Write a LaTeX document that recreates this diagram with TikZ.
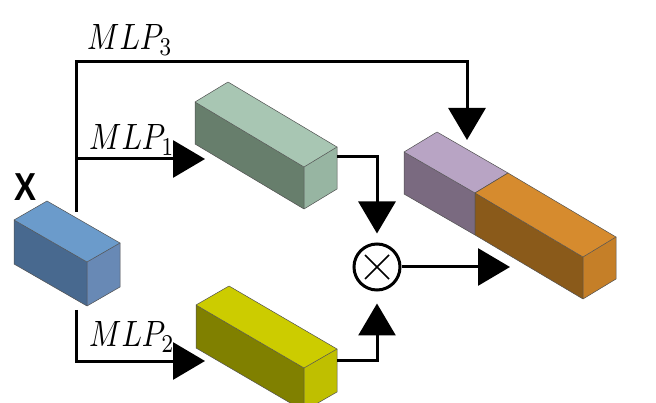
\documentclass[tikz,border=0pt]{standalone}
\usepackage{fontspec}
\newfontfamily\xfont{Liberation Sans}
\usetikzlibrary{arrows.meta}
\definecolor{bluetop}{HTML}{6B9BCB}
\definecolor{bluefront}{HTML}{48698F}
\definecolor{blueright}{HTML}{6889B5}
\definecolor{greentop}{HTML}{A8C6B3}
\definecolor{greenfront}{HTML}{677E6C}
\definecolor{greenright}{HTML}{97B5A2}
\definecolor{yellowtop}{HTML}{CCCC00}
\definecolor{yellowfront}{HTML}{808000}
\definecolor{yellowright}{HTML}{BFBF00}
\definecolor{purpletop}{HTML}{B8A4C4}
\definecolor{purplefront}{HTML}{7A6A80}
\definecolor{purpleright}{HTML}{9A88A2}
\definecolor{orangetop}{HTML}{D68B2E}
\definecolor{orangefront}{HTML}{8A5A1A}
\definecolor{orangeright}{HTML}{C57F28}
\definecolor{edgegray}{HTML}{505050}
\tikzset{
  arr/.style={line width=3pt, -{Triangle[length=32pt,width=37pt]}},
  plain/.style={line width=3pt},
  face/.style={draw=edgegray, line width=0.5pt, line join=round},
  lab/.style={inner sep=0pt, anchor=base west},
}
% #1,#2 front-left-top corner; #3,#4 length vector; #5,#6 depth vector; #7 height; #8 colour prefix
\newcommand\mycuboid[8]{%
  \path (#1,#2) coordinate (ca) ++(#3,#4) coordinate (cb) ++(#5,#6) coordinate (cc) ++(0,#7) coordinate (cd);
  \path (ca) ++(0,#7) coordinate (ce);
  \path (cb) ++(0,#7) coordinate (cf);
  \path (ca) ++(#5,#6) coordinate (cg);
  \fill[#8front] (ca) -- (cb) -- (cf) -- (ce) -- cycle;
  \fill[#8top] (ca) -- (cb) -- (cc) -- (cg) -- cycle;
  \fill[#8right] (cb) -- (cc) -- (cd) -- (cf) -- cycle;
  \draw[face] (ca) -- (cb) -- (cf) -- (ce) -- cycle;
  \draw[face] (ca) -- (cg) -- (cc) -- (cb);
  \draw[face] (cc) -- (cd) -- (cf);
}
\begin{document}
\begin{tikzpicture}[x=1pt,y=-1pt]
\useasboundingbox (0,0) rectangle (656,403);
\clip (0,0) rectangle (656,403);
% boxes
\mycuboid{14}{220}{73}{42}{33}{-19}{44}{blue}
\mycuboid{195}{102}{109}{65}{33}{-20}{42}{green}
\mycuboid{196}{305}{108}{63}{33}{-19}{43}{yellow}
\mycuboid{404}{152}{71}{41}{33}{-20}{42}{purple}
\mycuboid{475}{193}{108}{64}{33}{-20}{42}{orange}
% anchor points
\coordinate (xT) at (76,212);
\coordinate (xB) at (76,310);
\coordinate (xTop) at (76,62);
\coordinate (br1) at (76,159);
\coordinate (br2) at (76,361);
\coordinate (t1) at (205,159);
\coordinate (t2) at (205,361);
\coordinate (t3) at (467,140);
\coordinate (greenR) at (337,157);
\coordinate (yellowR) at (337,360);
% multiplication node
\node[circle, draw, line width=3pt, minimum size=46pt, inner sep=0pt] (mul) at (377,267) {};
\coordinate (catL) at ([xshift=133pt]mul.center);
\draw[line width=1.5pt] ([shift={(-12pt,12pt)}]mul.center) -- ([shift={(12pt,-12pt)}]mul.center);
\draw[line width=1.5pt] ([shift={(-12pt,-12pt)}]mul.center) -- ([shift={(12pt,12pt)}]mul.center);
% connectors
\draw[arr] (xT) -- (xTop) -| (t3);
\draw[arr] (br1) -- (t1);
\draw[arr] (xB) |- (t2);
\draw[arr] (greenR) -| ([yshift=9pt]mul.north);
\draw[arr] (yellowR) -| ([yshift=-12pt]mul.south);
\draw[arr] (mul.east) -- (catL);
% labels
\node[lab] (l3) at (87,50) {\scalebox{3.0}[3.66]{$MLP_3$}};
\node[lab] (l1) at (89,150) {\scalebox{3.0}[3.66]{$MLP_1$}};
\node[lab] (l2) at (89,347) {\scalebox{3.0}[3.66]{$MLP_2$}};
\node[lab] (lx) at (14,201) {\scalebox{3.3}[3.9]{\xfont\bfseries X}};
\end{tikzpicture}
\end{document}
